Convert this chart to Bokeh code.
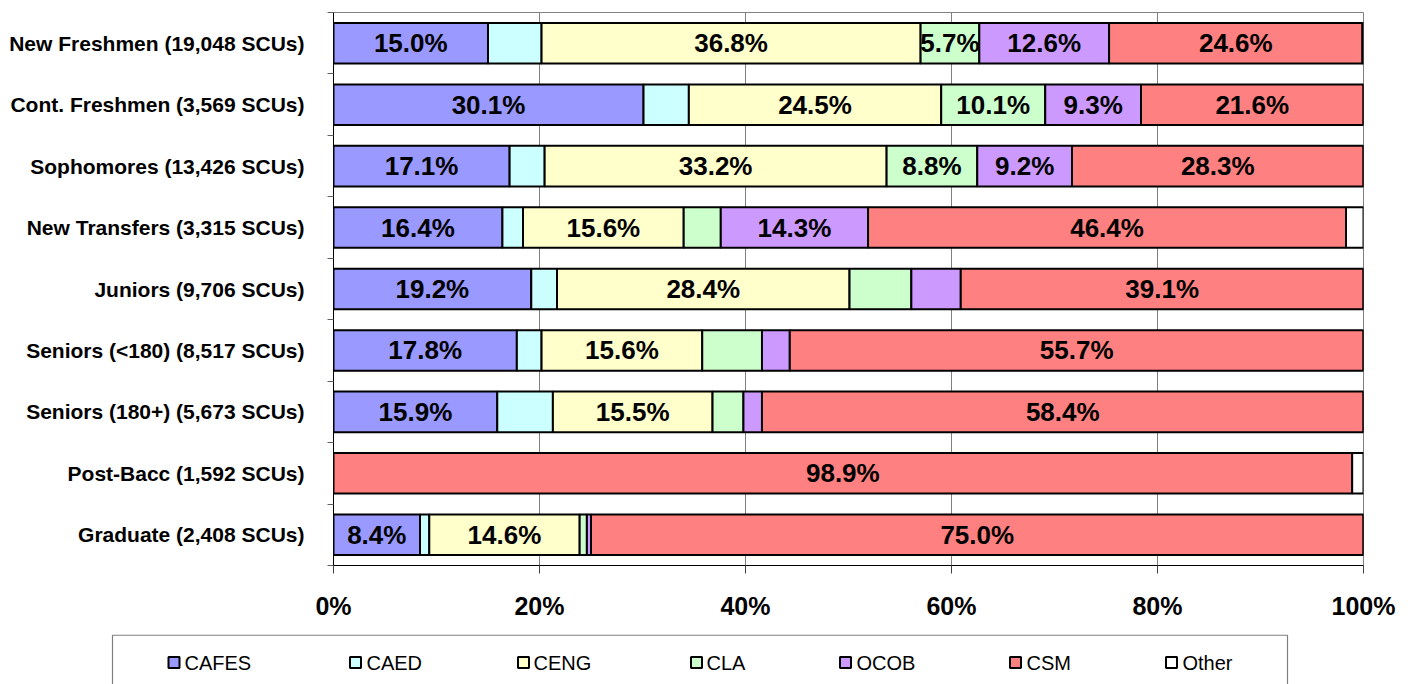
from bokeh.plotting import figure
from bokeh.models import ColumnDataSource, Range1d, FixedTicker, PrintfTickFormatter, Plot
from bokeh.layouts import column
from bokeh.embed import file_html
from bokeh.resources import INLINE
from bokeh.core.properties import value

categories = [
    "New Freshmen (19,048 SCUs)",
    "Cont. Freshmen (3,569 SCUs)",
    "Sophomores (13,426 SCUs)",
    "New Transfers (3,315 SCUs)",
    "Juniors (9,706 SCUs)",
    "Seniors (<180) (8,517 SCUs)",
    "Seniors (180+) (5,673 SCUs)",
    "Post-Bacc (1,592 SCUs)",
    "Graduate (2,408 SCUs)",
]
series = ["CAFES", "CAED", "CENG", "CLA", "OCOB", "CSM", "Other"]
cafes = [15.0, 30.1, 17.1, 16.4, 19.2, 17.8, 15.9, 0.0, 8.4]
caed = [5.2, 4.4, 3.4, 2.0, 2.5, 2.4, 5.4, 0.0, 0.9]
ceng = [36.8, 24.5, 33.2, 15.6, 28.4, 15.6, 15.5, 0.0, 14.6]
cla = [5.7, 10.1, 8.8, 3.6, 6.0, 5.8, 3.0, 0.0, 0.7]
ocob = [12.6, 9.3, 9.2, 14.3, 4.8, 2.7, 1.8, 0.0, 0.4]
csm = [24.6, 21.6, 28.3, 46.4, 39.1, 55.7, 58.4, 98.9, 75.0]
other = [0.1, 0.0, 0.0, 1.7, 0.0, 0.0, 0.0, 1.1, 0.0]
x_ticks = [0, 20, 40, 60, 80, 100]
# labels drawn in the original: values >= 8, plus these exceptions
label_min = 8.0
extra_labels = [("New Freshmen (19,048 SCUs)", "CLA")]

colors = ["#9999FF", "#CCFFFF", "#FFFFCC", "#CCFFCC", "#CC99FF", "#FF8080", "#FFFFFF"]
values = dict(zip(series, [cafes, caed, ceng, cla, ocob, csm, other]))

FONT_NAME = "Liberation Sans"
FONT = value(FONT_NAME)
n = len(categories)
centers = [n - i - 0.5 for i in range(n)]

# layout (canvas pixels)
W = 1416
H_MAIN = 634
H_LEG = 50
F_LEFT, F_RIGHT, F_TOP, F_BOTTOM = 333, 1363, 12, 565

data = {"y": centers}
data.update(values)
src = ColumnDataSource(data)

p = figure(width=W, height=H_MAIN, x_range=Range1d(0, 100), y_range=Range1d(0, n),
           output_backend="svg", toolbar_location=None,
           min_border_left=F_LEFT, min_border_right=W - F_RIGHT,
           min_border_top=F_TOP, min_border_bottom=H_MAIN - F_BOTTOM)

p.hbar_stack(series, y="y", height=0.66, color=colors, source=src,
             line_color="black", line_width=2)

# data labels
lx, ly, lt = [], [], []
for i, cat in enumerate(categories):
    cum = 0.0
    for s in series:
        v = values[s][i]
        if v >= label_min or (cat, s) in extra_labels:
            lx.append(cum + v / 2)
            ly.append(centers[i])
            lt.append(f"{v:.1f}%")
        cum += v
p.text(x=lx, y=ly, text=lt, text_font=FONT, text_font_size="26px", text_font_style="bold",
       text_align="center", text_baseline="middle", text_color="black")

p.outline_line_color = "#808080"
p.ygrid.visible = False
p.xgrid.ticker = FixedTicker(ticks=x_ticks)
p.xgrid.grid_line_color = "#808080"
p.xgrid.grid_line_width = 1

xa = p.xaxis[0]
xa.ticker = FixedTicker(ticks=x_ticks)
xa.formatter = PrintfTickFormatter(format="%d%%")
xa.axis_line_color = "black"
xa.major_tick_out = 8
xa.major_tick_in = 0
xa.major_tick_line_color = "#404040"
xa.minor_tick_line_color = None
xa.major_label_text_font = FONT_NAME
xa.major_label_text_font_style = "bold"
xa.major_label_text_font_size = "25px"
xa.major_label_text_color = "black"
xa.major_label_standoff = 18

ya = p.yaxis[0]
ya.ticker = FixedTicker(ticks=centers, minor_ticks=list(range(n + 1)))
ya.major_label_overrides = {c: cat for c, cat in zip(centers, categories)}
ya.axis_line_color = "black"
ya.major_tick_line_color = None
ya.major_tick_out = 0
ya.major_tick_in = 0
ya.minor_tick_out = 6
ya.minor_tick_in = 0
ya.minor_tick_line_color = "#606060"
ya.major_label_text_font = FONT_NAME
ya.major_label_text_font_style = "bold"
ya.major_label_text_font_size = "21px"
ya.major_label_text_color = "black"
ya.major_label_standoff = 23

# ---- legend strip (its own figure, pixel coordinates, y downwards) ----
leg = figure(width=W, height=H_LEG, x_range=Range1d(0, W), y_range=Range1d(H_LEG, 0),
             output_backend="svg", toolbar_location=None,
             min_border_left=0, min_border_right=0, min_border_top=0, min_border_bottom=0,
             x_axis_location=None, y_axis_location=None)
leg.grid.visible = False
leg.outline_line_color = None
marker_x = [173.5, 355, 523, 696, 845, 1015, 1171]
text_x = [184, 366, 533, 706, 856, 1026, 1182]
leg_y = 28
leg.multi_line(xs=[[112, 112, 1287, 1287]], ys=[[H_LEG + 5, 0.6, 0.6, H_LEG + 5]],
               line_color="#808080", line_width=1.2)
leg.rect(x=marker_x, y=[leg_y] * len(series), width=11, height=11, fill_color=colors,
         line_color="black", line_width=2)
leg.text(x=text_x, y=[leg_y] * len(series), text=series, text_font=FONT,
         text_font_size="20px", text_align="left", text_baseline="middle", text_color="black")

if "frame_align" in Plot.properties():
    p.frame_align = False
    leg.frame_align = False

layout = column(p, leg, spacing=0)
open("out.html", "w").write(file_html(layout, INLINE))
